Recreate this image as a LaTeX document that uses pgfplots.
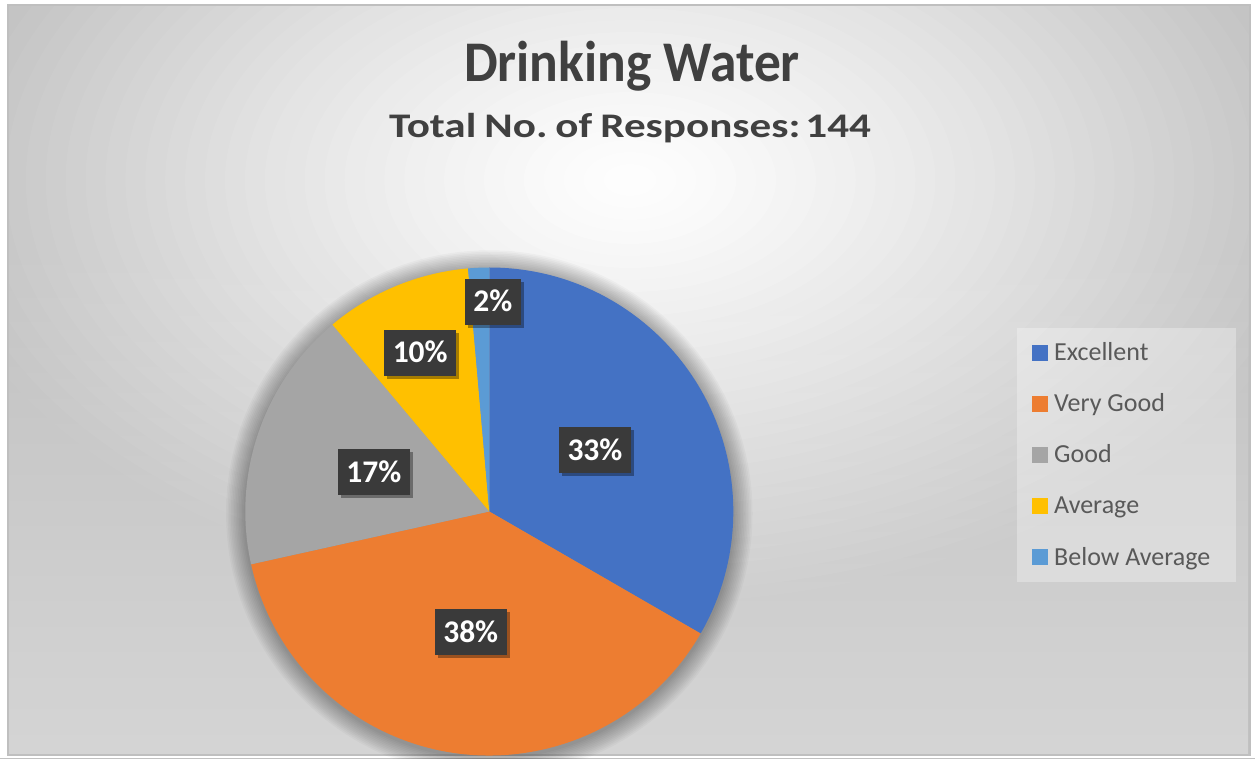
\documentclass[border=0pt]{standalone}
\usepackage{pgfplots}
\pgfplotsset{compat=1.18}
\usepackage{pgfplotstable}
\usetikzlibrary{shadows,fadings}
\usepackage{fontspec}
\setmainfont{Carlito}
\newfontfamily\titlefont[FakeStretch=0.93]{Carlito}
\newfontfamily\subfont[FakeStretch=1.25]{Carlito}

\definecolor{cExc}{HTML}{4472C4}
\definecolor{cVG}{HTML}{ED7D31}
\definecolor{cGood}{HTML}{A5A5A5}
\definecolor{cAvg}{HTML}{FFC000}
\definecolor{cBA}{HTML}{5B9BD5}
\definecolor{titlegray}{HTML}{404040}
\definecolor{leggray}{HTML}{595959}
\definecolor{boxgray}{HTML}{3A3A3A}
\definecolor{framegray}{HTML}{BFBFBF}

% responses per rating (total 144), percentage shown, label radius (fraction of pie radius),
% label angle offset (deg), colour
\pgfplotstableread[col sep=comma]{
label,count,pct,lr,da,col
Excellent,48,33,0.50,0,cExc
Very Good,55,38,0.50,0,cVG
Good,25,17,0.50,0,cGood
Average,14,10,0.71,1,cAvg
Below Average,2,2,0.86,-3.5,cBA
}\piedata

\def\cx{489.3}
\def\cy{246.5}
\def\R{244}

\pgfmathsetmacro{\total}{0}
\pgfplotsforeachungrouped \i in {0,...,4}{%
  \pgfplotstablegetelem{\i}{count}\of\piedata
  \pgfmathsetmacro{\total}{\total+\pgfplotsretval}%
}
\xdef\cum{90}
\pgfplotsforeachungrouped \i in {0,...,4}{%
  \pgfplotstablegetelem{\i}{count}\of\piedata
  \pgfmathsetmacro{\sweep}{360*(\pgfplotsretval/\total)}%
  \pgfmathsetmacro{\endang}{\cum-\sweep}%
  \pgfplotstablegetelem{\i}{da}\of\piedata
  \pgfmathsetmacro{\midang}{\cum-\sweep/2+\pgfplotsretval}%
  \pgfmathsetmacro{\sx}{\cx+\R*cos(\cum)}%
  \pgfmathsetmacro{\sy}{\cy+\R*sin(\cum)}%
  \pgfplotstablegetelem{\i}{lr}\of\piedata
  \pgfmathsetmacro{\lx}{\cx+\pgfplotsretval*\R*cos(\midang)}%
  \pgfmathsetmacro{\ly}{\cy+\pgfplotsretval*\R*sin(\midang)}%
  \expandafter\xdef\csname sa\i\endcsname{\cum}%
  \expandafter\xdef\csname ea\i\endcsname{\endang}%
  \expandafter\xdef\csname sx\i\endcsname{\sx}%
  \expandafter\xdef\csname sy\i\endcsname{\sy}%
  \expandafter\xdef\csname lx\i\endcsname{\lx}%
  \expandafter\xdef\csname ly\i\endcsname{\ly}%
  \pgfplotstablegetelem{\i}{pct}\of\piedata
  \expandafter\xdef\csname pc\i\endcsname{\pgfplotsretval}%
  \pgfplotstablegetelem{\i}{label}\of\piedata
  \expandafter\xdef\csname lb\i\endcsname{\pgfplotsretval}%
  \pgfplotstablegetelem{\i}{col}\of\piedata
  \expandafter\xdef\csname cl\i\endcsname{\pgfplotsretval}%
  \xdef\cum{\endang}%
}

\tikzset{lbl/.style={fill=boxgray, text=white, font=\fontsize{31.5}{36}\selectfont\bfseries,
  inner xsep=8.5pt, text height=20pt, text depth=0pt, minimum height=46pt,
  drop shadow={shadow xshift=3pt, shadow yshift=-3pt, opacity=0.35, fill=black}}}

\begin{document}
\begin{tikzpicture}
\begin{axis}[
  x=1pt, y=1pt, xmin=0, xmax=1255, ymin=0, ymax=758,
  hide axis, scale only axis, clip=true,
  at={(0,0)}, anchor=south west,
]
% background: elliptical banded gradient
\fill[white] (axis cs:0,0) rectangle (axis cs:1255,758);
\pgfplotsinvokeforeach{0,...,57}{%
  \pgfmathsetmacro{\rr}{700-12*#1}%
  \pgfmathsetmacro{\rx}{1.66*\rr}%
  \pgfmathtruncatemacro{\gg}{max(193,255-62*(\rr/430)^1.25)}%
  \edef\tmp{\noexpand\fill[color={rgb,255:red,\gg;green,\gg;blue,\gg}] (axis cs:630,578) ellipse[x radius=\rx pt, y radius=\rr pt];}\tmp
}
\fill[white, opacity=0.32, path fading=north] (axis cs:8,3) rectangle (axis cs:1250,520);
\fill[white] (axis cs:0,0) rectangle (axis cs:8,758);
\fill[white] (axis cs:1250,0) rectangle (axis cs:1255,758);
\fill[white] (axis cs:0,753) rectangle (axis cs:1255,758);
\fill[white] (axis cs:0,0) rectangle (axis cs:1255,3);
\draw[framegray, line width=1.5pt] (axis cs:8,3) rectangle (axis cs:1250,753);
% pie shadow
\pgfplotsinvokeforeach{1,...,12}{%
  \fill[black, opacity=0.028] (axis cs:\cx,\cy-2) circle[radius=\R pt+#1*1.6pt];
}
% wedges
\pgfplotsinvokeforeach{0,...,4}{%
  \addplot[draw=none, fill=\csname cl#1\endcsname, mark=none]
    coordinates {(\cx,\cy) (\csname sx#1\endcsname,\csname sy#1\endcsname)}
    arc[start angle=\csname sa#1\endcsname, end angle=\csname ea#1\endcsname, radius=\R pt] -- cycle;
}
% data labels
\pgfplotsinvokeforeach{0,...,4}{%
  \node[lbl] at (axis cs:\csname lx#1\endcsname,\csname ly#1\endcsname) {\csname pc#1\endcsname\%};
}
% legend
\fill[white, opacity=0.3] (axis cs:1017,176) rectangle (axis cs:1236,430);
\pgfplotsinvokeforeach{0,...,4}{%
  \fill[\csname cl#1\endcsname] (axis cs:1032,{397-51*#1}) rectangle (axis cs:1048,{413-51*#1});
  \node[anchor=base west, inner sep=0pt, text=leggray, font=\fontsize{26}{30}\selectfont]
    at (axis cs:1054,{397-51*#1}) {\csname lb#1\endcsname};
}
% titles
\node[anchor=base, text=titlegray, font=\titlefont\bfseries\fontsize{57.5}{64}\selectfont]
  at (axis cs:632,676) {Drinking Water};
\node[anchor=base, text=titlegray, font=\subfont\bfseries\fontsize{34.5}{40}\selectfont]
  at (axis cs:630,620) {\frenchspacing\spaceskip=8pt Total No. of Responses:\hspace{5pt}144};
\path (axis cs:0,0) coordinate (BL);
\path (axis cs:1255,758) coordinate (TR);
\end{axis}
\pgfresetboundingbox
\path[use as bounding box] (BL) rectangle (TR);
\end{tikzpicture}
\end{document}
